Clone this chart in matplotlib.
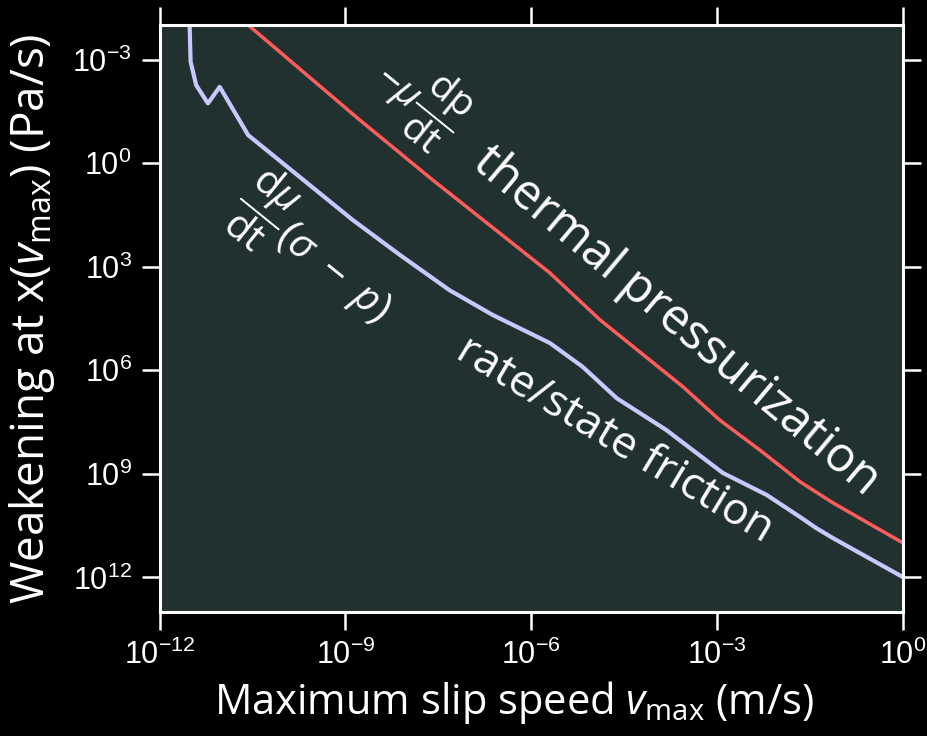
import numpy as np
import matplotlib
matplotlib.use('Agg')
import matplotlib.pyplot as plt
from matplotlib.ticker import FixedLocator, LogFormatterSciNotation, NullLocator

plt.rcParams['font.family'] = ['Open Sans', 'DejaVu Sans']
plt.rcParams['mathtext.fontset'] = 'custom'
plt.rcParams['mathtext.rm'] = 'Liberation Sans'
plt.rcParams['mathtext.it'] = 'Open Sans:italic'
plt.rcParams['mathtext.sf'] = 'Open Sans'

# log10 of slip speed (m/s) and log10 of weakening rate (Pa/s)
tp_logv = [-11.0, -10.57, -8.77, -7.59, -5.70, -4.89, -3.55, -2.96, -2.31, -1.66, -1.13, 0.0]
tp_logw = [-4.65, -4.0, -1.25, 0.49, 3.18, 4.54, 6.48, 7.44, 8.31, 9.23, 9.84, 11.0]

rs_logv = [-11.53, -11.50, -11.41, -11.22, -11.03, -10.57, -8.88, -8.12, -7.32, -6.62,
           -5.70, -5.17, -4.62, -3.82, -2.91, -2.20, -1.66, -1.40, -1.13, 0.0]
rs_logw = [-5.0, -2.94, -2.26, -1.73, -2.21, -0.81, 1.65, 2.66, 3.68, 4.40,
           5.21, 5.90, 6.81, 7.73, 8.97, 9.61, 10.25, 10.57, 10.86, 11.99]

xticks = [1e-12, 1e-9, 1e-6, 1e-3, 1e0]
yticks = [1e-3, 1e0, 1e3, 1e6, 1e9, 1e12]

fig = plt.figure(figsize=(9.28, 7.36), dpi=100, facecolor='black')
ax = fig.add_axes([0.172, 0.1685, 0.801, 0.7975])
ax.set_facecolor('#213130')

ax.plot(10.0 ** np.array(tp_logv), 10.0 ** np.array(tp_logw), color='#ff5c5c', lw=2.5)
ax.plot(10.0 ** np.array(rs_logv), 10.0 ** np.array(rs_logw), color='#c8c8ff', lw=3.0)

ax.set_xscale('log')
ax.set_yscale('log')
ax.set_xlim(1e-12, 1e0)
ax.set_ylim(1e13, 1e-4)

for axis, ticks in ((ax.xaxis, xticks), (ax.yaxis, yticks)):
    axis.set_major_locator(FixedLocator(ticks))
    axis.set_minor_locator(NullLocator())
    axis.set_major_formatter(LogFormatterSciNotation())

for sp in ax.spines.values():
    sp.set_color('white')
    sp.set_linewidth(2.2)

ax.tick_params(which='major', direction='out', length=13, width=1.8, color='white',
               labelcolor='white', labelsize=22, labelfontfamily='Liberation Sans',
               top=True, right=True, labeltop=False, labelright=False, pad=7)

ax.set_xlabel(r'Maximum slip speed $v_{\mathsf{max}}$ (m/s)', color='white', fontsize=30)
ax.set_ylabel(r'Weakening at x($v_{\mathsf{max}}$) (Pa/s)', color='white', fontsize=33)
ax.xaxis.set_label_coords(0.476, -0.115)
ax.yaxis.set_label_coords(-0.138, 0.5)

txt = dict(transform=ax.transAxes, color='white', ha='center', va='center', rotation_mode='anchor')
ax.text(0.35, 0.875, r'$-\mu\dfrac{\mathsf{dp}}{\mathsf{dt}}$', fontsize=28, rotation=-39, **txt)
ax.text(0.695, 0.495, 'thermal pressurization', fontsize=35, rotation=-40, **txt)
ax.text(0.21, 0.615, r'$\dfrac{\mathsf{d}\mu}{\mathsf{dt}}(\sigma\ -\ p)$', fontsize=29, rotation=-39, **txt)
ax.text(0.612, 0.293, 'rate/state friction', fontsize=32, rotation=-31, **txt)

fig.savefig('out.png', dpi=100, facecolor='black')
